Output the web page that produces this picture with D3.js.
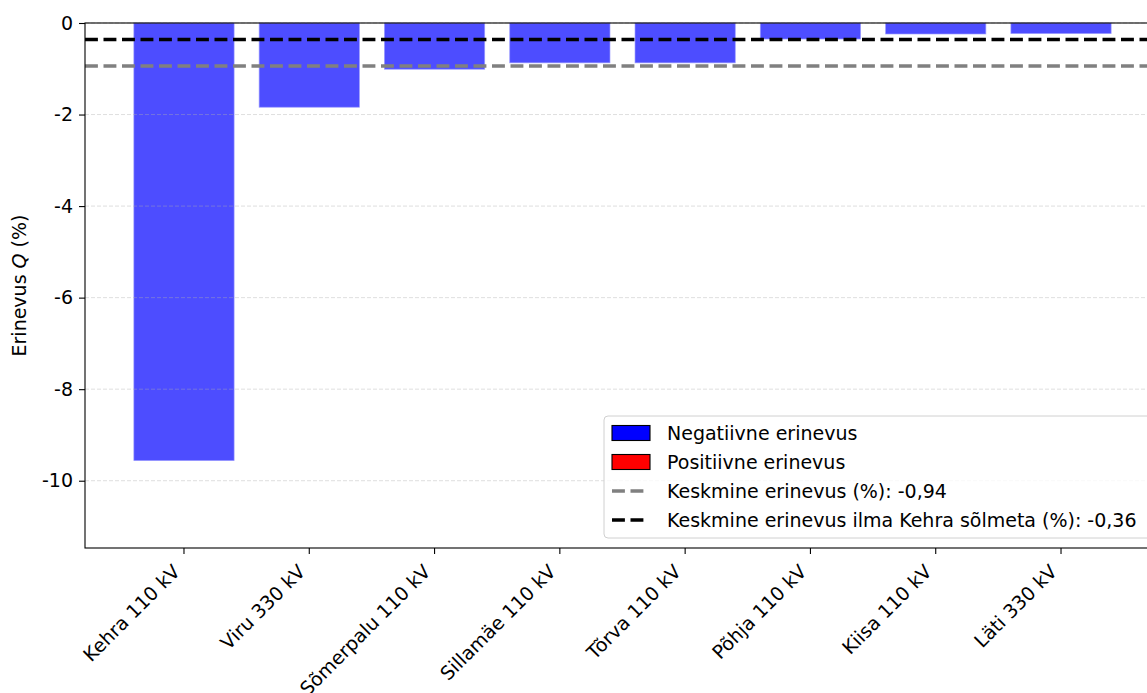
<!DOCTYPE html>
<html>
<head>
<meta charset="utf-8">
<script src="https://cdn.jsdelivr.net/npm/d3@7"></script>
<style>
  body { margin: 0; background: #fff; }
  svg { display: block; }
  text { font-family: "DejaVu Sans", sans-serif; }
</style>
</head>
<body>
<div id="chart"></div>
<script>
// data
const categories = ["Kehra 110 kV", "Viru 330 kV", "Sõmerpalu 110 kV", "Sillamäe 110 kV",
                    "Tõrva 110 kV", "Põhja 110 kV", "Kiisa 110 kV", "Läti 330 kV"];
const values = [-9.56, -1.84, -1.01, -0.87, -0.87, -0.35, -0.24, -0.23];
const meanValues = [-0.94, -0.36];
const meanColors = ["#808080", "#000000"];
const meanLabels = ["Keskmine erinevus (%): -0,94",
                    "Keskmine erinevus ilma Kehra sõlmeta (%): -0,36"];
const yTicks = [0, -2, -4, -6, -8, -10];

const W = 1147, H = 693;
// the axes run a bit past the right edge of the picture
const plot = {left: 85, right: 1160, top: 23, bottom: 548};
const fs = 19;

const svg = d3.select("#chart").append("svg")
    .attr("width", W)
    .attr("height", H)
    .style("overflow", "hidden");

const x = d3.scaleBand()
    .domain(categories)
    .range([plot.left, plot.right])
    .paddingInner(0.2)
    .paddingOuter(0.39);

const y = d3.scaleLinear()
    .domain([-11.47, 0])
    .range([plot.bottom, plot.top]);

// bars
svg.append("g").selectAll("rect")
  .data(values)
  .enter().append("rect")
    .attr("x", (d, i) => x(categories[i]))
    .attr("width", x.bandwidth())
    .attr("y", d => y(Math.max(0, d)))
    .attr("height", d => Math.abs(y(d) - y(0)))
    .attr("fill", d => d < 0 ? "rgb(77,77,255)" : "rgb(255,77,77)")
    .attr("stroke", d => d < 0 ? "rgba(150,150,255,0.8)" : "rgba(255,150,150,0.8)")
    .attr("stroke-width", 0.8);

// grid
svg.append("g").selectAll("line")
  .data(yTicks)
  .enter().append("line")
    .attr("x1", plot.left).attr("x2", plot.right)
    .attr("y1", d => y(d)).attr("y2", d => y(d))
    .attr("stroke", "#b0b0b0")
    .attr("stroke-opacity", 0.5)
    .attr("stroke-width", 0.8)
    .attr("stroke-dasharray", "4,2");

// mean lines
svg.append("g").selectAll("line")
  .data(meanValues)
  .enter().append("line")
    .attr("x1", plot.left).attr("x2", plot.right)
    .attr("y1", d => y(d)).attr("y2", d => y(d))
    .attr("stroke", (d, i) => meanColors[i])
    .attr("stroke-width", 3.5)
    .attr("stroke-dasharray", "12.9,5.6");

// axes
const yAxis = svg.append("g")
    .attr("transform", `translate(${plot.left},0)`)
    .call(d3.axisLeft(y).tickValues(yTicks).tickSize(6).tickPadding(6)
          .tickFormat(d => String(d)));
yAxis.select(".domain").remove();
yAxis.selectAll("text").attr("font-size", fs).attr("fill", "#000")
    .attr("font-family", "DejaVu Sans");
yAxis.selectAll(".tick line").attr("stroke", "#000").attr("stroke-width", 1.1);

const xAxis = svg.append("g")
    .attr("transform", `translate(0,${plot.bottom})`)
    .call(d3.axisBottom(x).tickSize(6).tickSizeOuter(0));
xAxis.select(".domain").remove();
xAxis.selectAll(".tick line").attr("stroke", "#000").attr("stroke-width", 1.1);
xAxis.selectAll("text")
    .attr("font-size", fs)
    .attr("font-family", "DejaVu Sans")
    .attr("fill", "#000")
    .attr("text-anchor", "end")
    .attr("dy", null)
    .attr("y", null)
    .attr("dominant-baseline", "text-after-edge")
    .attr("transform", `translate(0,${12 + fs * 1.17 * 0.707}) rotate(-45)`);

// spines
svg.append("rect")
    .attr("x", plot.left).attr("y", plot.top)
    .attr("width", plot.right - plot.left).attr("height", plot.bottom - plot.top)
    .attr("fill", "none")
    .attr("stroke", "#000")
    .attr("stroke-width", 1.1);

// y label
svg.append("text")
    .attr("transform", `translate(26,${(plot.top + plot.bottom) / 2}) rotate(-90)`)
    .attr("text-anchor", "middle")
    .attr("font-size", fs)
    .call(t => {
      t.append("tspan").text("Erinevus ");
      t.append("tspan").attr("font-style", "italic").text("Q");
      t.append("tspan").text(" (%)");
    });

// legend
const legend = svg.append("g");
legend.append("rect")
    .attr("x", 604).attr("y", 416)
    .attr("width", 548).attr("height", 122)
    .attr("rx", 4)
    .attr("fill", "#fff").attr("fill-opacity", 0.8)
    .attr("stroke", "#d0d0d0").attr("stroke-width", 1);

const rows = [
  {type: "patch", color: "#0000ff", label: "Negatiivne erinevus"},
  {type: "patch", color: "#ff0000", label: "Positiivne erinevus"},
  {type: "line", color: meanColors[0], label: meanLabels[0]},
  {type: "line", color: meanColors[1], label: meanLabels[1]}
];
rows.forEach((r, i) => {
  const cy = 433 + i * 29;
  if (r.type === "patch") {
    legend.append("rect")
        .attr("x", 612).attr("y", cy - 7.5)
        .attr("width", 38).attr("height", 15)
        .attr("fill", r.color).attr("stroke", "#000").attr("stroke-width", 1.1);
  } else {
    legend.append("line")
        .attr("x1", 612).attr("x2", 647)
        .attr("y1", cy).attr("y2", cy)
        .attr("stroke", r.color).attr("stroke-width", 3.5)
        .attr("stroke-dasharray", "12.9,5.6");
  }
  legend.append("text")
      .attr("x", 667).attr("y", cy)
      .attr("dy", "0.36em")
      .attr("font-size", fs)
      .text(r.label);
});
</script>
</body>
</html>
